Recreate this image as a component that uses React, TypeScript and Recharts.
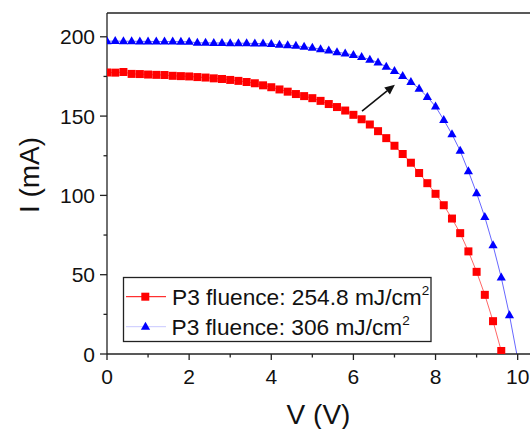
import React from "react";
import {
  LineChart,
  Line,
  XAxis,
  YAxis,
  ReferenceLine,
} from "recharts";

// voltage steps (V)
const VOLTAGE = [
  0, 0.2, 0.4, 0.6, 0.8, 1.0, 1.2, 1.4, 1.6, 1.8,
  2.0, 2.2, 2.4, 2.6, 2.8, 3.0, 3.2, 3.4, 3.6, 3.8,
  4.0, 4.2, 4.4, 4.6, 4.8, 5.0, 5.2, 5.4, 5.6, 5.8,
  6.0, 6.2, 6.4, 6.6, 6.8, 7.0, 7.2, 7.4, 7.6, 7.8,
  8.0, 8.2, 8.4, 8.6, 8.8, 9.0, 9.2, 9.4, 9.6, 9.8,
  10.0,
];

// P3 fluence 254.8 mJ/cm2 (mA)
const CURRENT_254 = [
  177.5, 177.4, 177.8, 176.6, 176.5, 176.2, 176.0, 175.9, 175.4, 175.2,
  175.0, 174.6, 174.3, 173.8, 173.4, 172.8, 172.2, 171.5, 170.7, 169.4,
  168.2, 166.8, 165.4, 163.9, 162.6, 161.3, 159.6, 157.6, 155.7, 153.5,
  150.8, 148.0, 144.7, 140.5, 136.1, 131.3, 126.1, 120.6, 114.1, 107.7,
  101.0, 93.8, 85.4, 76.2, 64.7, 51.8, 37.3, 20.7, 1.9,
];

// P3 fluence 306 mJ/cm2 (mA)
const CURRENT_306 = [
  197.2, 197.3, 197.2, 197.2, 197.1, 197.1, 197.0, 197.0, 197.0, 196.9,
  196.9, 196.2, 196.2, 196.1, 196.1, 196.0, 196.0, 195.9, 195.8, 195.7,
  195.4, 195.0, 194.7, 194.3, 193.7, 193.1, 192.2, 191.4, 190.3, 189.5,
  188.5, 187.2, 185.6, 183.8, 181.1, 178.4, 175.3, 171.5, 167.3, 162.1,
  156.0, 147.6, 138.6, 128.1, 115.2, 101.4, 86.3, 68.5, 48.2, 24.5,
  -3,
];

const X_TICKS = [0, 1, 2, 3, 4, 5, 6, 7, 8, 9, 10];
const Y_TICKS = [0, 25, 50, 75, 100, 125, 150, 175, 200];

const FONT = "'Liberation Sans', Arial, sans-serif";
const AXIS = "#222";
const RED = "#ff0000";
const BLUE = "#0000ff";

const redData = CURRENT_254.map((i, k) => ({ v: VOLTAGE[k], i }));
const blueData = CURRENT_306.map((i, k) => ({ v: VOLTAGE[k], i }));

const XTick = ({ x, y, payload }: any) => {
  const major = payload.value % 2 === 0;
  return (
    <g>
      <line x1={x} x2={x} y1={y} y2={y + (major ? 6 : 3.5)} stroke={AXIS} strokeWidth={1.3} />
      {major && (
        <text x={x} y={y + 30} textAnchor="middle" fontSize={21} fontFamily={FONT} fill="#111">
          {payload.value}
        </text>
      )}
    </g>
  );
};

const YTick = ({ x, y, payload }: any) => {
  const major = payload.value % 50 === 0;
  return (
    <g>
      <line x1={x - (major ? 7 : 3.5)} x2={x} y1={y} y2={y} stroke={AXIS} strokeWidth={1.3} />
      {major && (
        <text x={x - 12} y={y + 7.5} textAnchor="end" fontSize={21} fontFamily={FONT} fill="#111">
          {payload.value}
        </text>
      )}
    </g>
  );
};

const Square = ({ cx, cy }: any) =>
  cx == null || cy == null ? null : (
    <rect x={cx - 4} y={cy - 4} width={8} height={8} fill={RED} />
  );

// the last point sits just below the axis, Origin hides it
const Triangle = ({ cx, cy, payload }: any) =>
  cx == null || cy == null || payload.i < 0 ? null : (
    <polygon
      points={`${cx},${cy - 5} ${cx + 4.6},${cy + 3} ${cx - 4.6},${cy + 3}`}
      fill={BLUE}
    />
  );

const Arrow = ({ x1, y1, x2, y2 }: any) => {
  const ang = Math.atan2(y2 - y1, x2 - x1);
  const len = 10;
  const w = 4.5;
  const bx = x2 - len * Math.cos(ang);
  const by = y2 - len * Math.sin(ang);
  const px = -Math.sin(ang) * w;
  const py = Math.cos(ang) * w;
  return (
    <g>
      <line x1={x1} y1={y1} x2={bx} y2={by} stroke="#111" strokeWidth={1.6} />
      <polygon points={`${x2},${y2} ${bx + px},${by + py} ${bx - px},${by - py}`} fill="#111" />
    </g>
  );
};

const Legend = () => (
  <svg
    width={530}
    height={429}
    style={{ position: "absolute", left: 0, top: 0, pointerEvents: "none" }}
  >
    <rect x={123.5} y={277.5} width={307.5} height={64} fill="#fff" stroke={AXIS} strokeWidth={1.3} />
    <line x1={126} x2={166} y1={296.7} y2={296.7} stroke={RED} strokeWidth={1} />
    <rect x={141.3} y={292.7} width={8} height={8} fill={RED} />
    <text x={172} y={304.8} fontSize={22.7} fontFamily={FONT} fill="#111">
      P3 fluence: 254.8 mJ/cm<tspan fontSize={13.5} dy={-10}>2</tspan>
    </text>
    <line x1={126} x2={166} y1={326.7} y2={326.7} stroke="#c8c8ff" strokeWidth={1} />
    <polygon points="145.5,321.7 150.1,329.7 140.9,329.7" fill={BLUE} />
    <text x={171.5} y={334.8} fontSize={22.7} fontFamily={FONT} fill="#111">
      P3 fluence: 306 mJ/cm<tspan fontSize={13.5} dy={-10}>2</tspan>
    </text>
  </svg>
);

export default function App() {
  return (
    <div style={{ position: "fixed", left: 0, top: 0, width: 530, height: 429, background: "#fff" }}>
      <LineChart
        width={530}
        height={429}
        margin={{ top: 13, right: 0, bottom: 0, left: 0 }}
      >
        <XAxis
          type="number"
          dataKey="v"
          domain={[0, 10.3]}
          ticks={X_TICKS}
          interval={0}
          height={75}
          tickSize={0}
          tickMargin={0}
          tickLine={false}
          tick={<XTick />}
          axisLine={{ stroke: AXIS, strokeWidth: 1.3 }}
          allowDataOverflow
          label={{
            value: "V (V)",
            content: ({ viewBox }: any) => (
              <text
                x={viewBox.x + viewBox.width / 2}
                y={viewBox.y + 70}
                textAnchor="middle"
                fontSize={28}
                fontFamily={FONT}
                fill="#111"
              >
                V (V)
              </text>
            ),
          }}
        />
        <YAxis
          type="number"
          domain={[0, 215]}
          ticks={Y_TICKS}
          interval={0}
          width={107}
          tickSize={0}
          tickMargin={0}
          tickLine={false}
          tick={<YTick />}
          axisLine={{ stroke: AXIS, strokeWidth: 1.3 }}
          allowDataOverflow
          label={{
            value: "I (mA)",
            content: ({ viewBox }: any) => {
              const cx = viewBox.x + 29;
              const cy = viewBox.y + 162;
              return (
                <text
                  x={cx}
                  y={cy}
                  transform={`rotate(-90, ${cx}, ${cy})`}
                  textAnchor="middle"
                  dominantBaseline="central"
                  fontSize={28}
                  fontFamily={FONT}
                  fill="#111"
                >
                  I (mA)
                </text>
              );
            },
          }}
        />
        <ReferenceLine y={215} stroke={AXIS} strokeWidth={1.3} ifOverflow="visible" />
        <ReferenceLine
          segment={[
            { x: 6.21, y: 153.1 },
            { x: 7.01, y: 169.8 },
          ]}
          shape={<Arrow />}
        />
        <Line
          data={redData}
          dataKey="i"
          type="linear"
          stroke={RED}
          strokeOpacity={0.6}
          strokeWidth={1}
          dot={<Square />}
          activeDot={false}
          isAnimationActive={false}
        />
        <Line
          data={blueData}
          dataKey="i"
          type="linear"
          stroke={BLUE}
          strokeOpacity={0.6}
          strokeWidth={1}
          dot={<Triangle />}
          activeDot={false}
          isAnimationActive={false}
        />
      </LineChart>
      <Legend />
    </div>
  );
}
